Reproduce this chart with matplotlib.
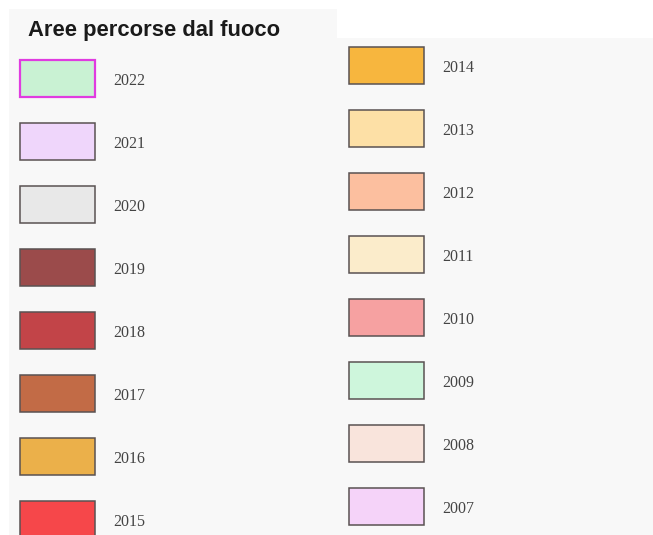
import matplotlib
matplotlib.use("Agg")
import matplotlib.pyplot as plt
import matplotlib.transforms as mtransforms
from matplotlib.patches import Patch, Rectangle

title = "Aree percorse dal fuoco"
years_left = ["2022", "2021", "2020", "2019", "2018", "2017", "2016", "2015"]
colors_left = ["#c9f2d3", "#efd6fb", "#e8e8e8", "#9b4b4b", "#c24448", "#c26b46", "#ebb04a", "#f6474a"]
years_right = ["2014", "2013", "2012", "2011", "2010", "2009", "2008", "2007"]
colors_right = ["#f7b63e", "#fde0a6", "#fcbf9f", "#fbeccb", "#f6a1a1", "#cef6dc", "#f9e4dc", "#f5d3f9"]

W, H = 653, 535
fig = plt.figure(figsize=(W / 100, H / 100), dpi=100, facecolor="white")

bg = "#f8f8f8"
fig.add_artist(Rectangle((9 / W, 0), (337 - 9) / W, (H - 9) / H, transform=fig.transFigure,
                         facecolor=bg, edgecolor="none", zorder=0))
fig.add_artist(Rectangle((337 / W, 0), (W - 337) / W, (H - 38) / H, transform=fig.transFigure,
                         facecolor=bg, edgecolor="none", zorder=0))

fig.text(28 / W, 1 - 36 / H, title, fontsize=15.8, fontweight="bold", family="Liberation Sans",
         color="#1a1a1a", va="baseline", ha="left")

edge = "#5a5252"
fs = 11.5
fpx = fs * 100 / 72


def handles(years, cols, special=None):
    hs = []
    for y, c in zip(years, cols):
        if special and y in special:
            hs.append(Patch(facecolor=c, edgecolor=special[y], linewidth=1.6, label=y))
        else:
            hs.append(Patch(facecolor=c, edgecolor=edge, linewidth=1.1, label=y))
    return hs


sw_w, sw_h, step, gap = 75, 37, 63, 18
hh = (sw_h / fpx - 0.245) / 0.65
common = dict(loc="upper left", frameon=False, borderpad=0, borderaxespad=0,
              handlelength=sw_w / fpx, handleheight=hh,
              labelspacing=(step - sw_h) / fpx, handletextpad=gap / fpx,
              prop={"family": "Liberation Serif", "size": fs})

leg1 = fig.legend(handles=handles(years_left, colors_left, {"2022": "#e03ce0"}),
                  bbox_to_anchor=(20 / W, 1 - 60 / H), **common)
leg2 = fig.legend(handles=handles(years_right, colors_right),
                  bbox_to_anchor=(349 / W, 1 - 47 / H), **common)
shift = mtransforms.Affine2D().translate(0, -2)
for lg in (leg1, leg2):
    for t in lg.get_texts():
        t.set_color("#444444")
        t.set_transform(t.get_transform() + shift)

fig.savefig("out.png", dpi=100, facecolor="white")
